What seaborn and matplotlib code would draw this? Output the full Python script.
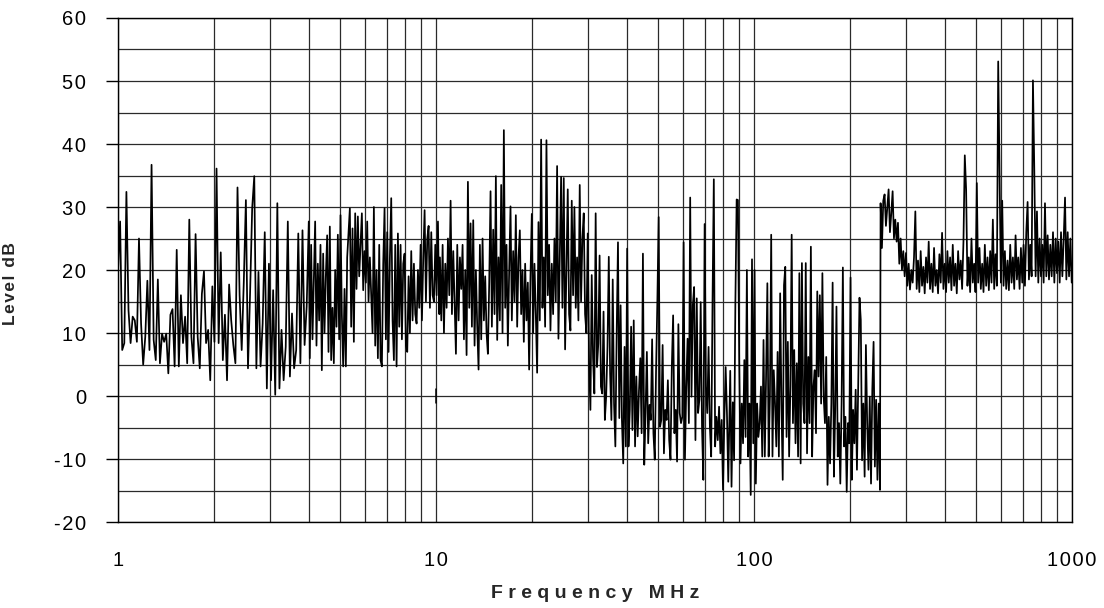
import numpy as np
import matplotlib
matplotlib.use("Agg")
from matplotlib import pyplot as plt
import seaborn as sns
import pandas as pd

# sweep segments (MHz): start / stop of each block of readings
seg_start_mhz = [1.0, 4.01, 10.29, 30.3, 84.2, 250.1]
seg_stop_mhz = [3.98, 10.24, 30.0, 83.0, 249.0, 998.0]

# level readings in dB
seg1_levels = [20, 27.7, 7.3, 8.4, 32.4, 13.6, 8.4, 12.6, 12, 8.6, 25, 11.5, 5, 9.4, 18.3, 7.3,
               36.7, 8.9, 5.7, 18.5, 5.2, 9.9, 8.6, 9.9, 3.6, 12.9, 13.8, 4.7, 23.2, 4.7, 16, 8.4,
               12.6, 5.2, 28, 9.4, 5.2, 25.7, 9.4, 4.4, 16.2, 19.8, 8.4, 10.5, 2.5, 17.4, 8.6, 36.1,
               8.4, 22.8, 5.7, 12.9, 2.5, 17.7, 12, 8.1, 5.2, 33.1, 16, 7.3, 18.1, 31.1, 4.4, 16.3,
               29.8, 34.9, 4.4, 19.7, 4.7, 11.5, 26, 1.2, 21, 2.5, 16.8, 0.2, 30.6, 1.2, 10.5, 2.5,
               7.8, 27.7, 3.1, 13.1, 4.4, 7.3, 25.8, 5.2, 26.3, 8.1, 14.2, 27.7]

seg2_levels = [6, 24, 9, 18, 27.7, 8, 21, 12, 24, 4.1, 22.6, 10, 19, 25.5, 7, 26.9, 5.7, 14, 5.2,
               20, 11, 25.6, 9, 28.7, 13, 4.7, 17, 4.7, 22, 25.8, 29.8, 11, 26.6, 8.6, 29, 17, 28.5,
               19, 24, 29, 16.8, 23, 18, 27.7, 15, 22, 16, 10, 30, 8, 20, 6, 24, 5.7, 4.7, 21, 29.8,
               9, 26, 7, 22, 31.4, 12, 5.7, 24, 4.7, 25.8, 11, 24, 9, 21, 22.6, 8, 7, 19, 10, 23, 12,
               21, 13, 11.5, 20, 14, 24, 12, 22, 29.5, 15, 25, 27, 14, 26, 16, 15, 24, 16, 27.7, 13]

seg3_levels = [22, 12, 24, 10, 21, 14, 25, 16, 31, 13, 23, 15, 6.7, 24, 12, 22, 17, 24, 9, 20, 6.5,
               34, 14, 27.4, 11, 27.9, 8, 20, 11, 4.2, 24, 9, 25, 12, 19, 10, 6.7, 18, 32.5, 11,
               26.4, 13, 34.9, 8.9, 22, 12, 33.5, 10, 42.2, 14, 24, 8, 20, 30.1, 12, 23, 15, 28.7,
               11, 22, 26.3, 13, 20, 8.6, 21, 12, 18, 4.2, 19, 28.9, 10, 21, 13, 3.7, 27.6, 12,
               40.7, 14, 22, 11, 40.6, 16, 24, 10.4, 21, 13, 25, 15, 36.5, 9.1, 22, 34.8, 14, 34.6,
               7.4, 20, 32.8, 13, 10.4, 31, 16, 30, 14, 22, 12, 33.5, 15, 25, 29, 13, 10, 25.8]

seg4_levels = [5.2, -2.2, 19.2, 6.0, 0.4, 29.0, 4.6, 8.3, 22.3, 1.5, 0.4, 13.4, -3.8, -0.1, 7.8,
               22.1, 3.6, -3.8, 18.5, -1.2, -8.0, 10.0, 24.4, -3.5, 14.4, -3.8, -10.7, 7.8, -8.0,
               23.4, -8.0, -2.2, 11.0, -5.4, 12.0, -8.0, 3.1, -6.4, 0.9, 6.0, -5.9, 22.6, -10.9,
               -2.7, 7.0, -7.5, -1.4, -3.8, 9.0, -5.9, -10.1, 4.1, 15.2, 28.4, -4.9, -3.8, 8.1,
               -9.1, -2.2, -3.8, 2.5, -7.0, -10.1, 4.6, 12.8, -5.9, -2.2, -10.4, 11.4, -2.7, -4.3,
               -3.3, 24.4, -10.1, 1.5, 9.1, -4.3, 31.5, -0.1, 14.4, 17.3, -7.0, 15.5, -2.7, -0.6,
               14.9, -4.9, -13.3, 27.3, 1.5, -2.7, 7.8, -4.9, -9.6, 14.9, 34.4, -8.0, -3.3, -7.0,
               -1.7, -9.1, -3.8, -14.9, -3.8, 4.6, -2.7, -13.6]

seg5_levels = [4.0, -14.4, -1.0, -10.2, 14.7, 31.2, 31.1, 5.7, -10.7, -1.2, -7.5, 5.7, -6.5, 20.0,
               -9.6, -1.2, -15.7, 21.7, -7.5, 20.0, -13.9, -1.2, -6.5, -4.3, 1.5, -9.6, 8.9, -9.6,
               3.1, 17.9, -9.6, -0.1, 25.6, -9.6, 4.1, -1.2, -8.0, 7.0, -9.6, 16.3, -1.2, -13.3,
               17.6, 20.5, -6.5, 8.6, -9.6, 1.5, 25.6, -4.3, 7.3, -7.5, 5.2, -9.6, 19.5, -10.7,
               21.1, -1.2, -4.3, 21.1, -9.1, 6.2, -4.3, 23.7, -9.6, 1.5, 4.1, -5.9, 16.6, 3.1,
               16.0, -1.2, 19.5, -0.1, -4.3, 6.2, -14.1, -3.3, -10.7, -1.2, 18.0, -12.8, -2.2,
               14.2, -9.6, -4.3, -13.9, -1.2, 20.4, -8.0, -3.3, -15.2, -4.3, -7.5, 18.8, -13.3,
               -2.2, -7.5, 1.0, -11.7, 2.5, 15.6, 12.1, -10.2, -1.2, -12.8, 8.1, -4.3, -11.7, -0.1,
               -13.9, 1.0, 8.6, -11.2, -0.6, -13.3, -1.2, -14.9]

seg6_levels = [30.6, 23.5, 31, 32, 27, 30, 32.8, 26, 29, 32.5, 25, 28, 24.5, 27.5, 21, 25, 20, 23,
               19, 22.7, 17.5, 21, 16.9, 20, 18, 22, 29.3, 17, 21.5, 16.5, 23, 17.5, 20.5, 16.3, 22,
               18, 24.5, 17, 21, 16.5, 23.5, 17.5, 20, 16.3, 22.5, 18, 25.9, 17, 21, 16.5, 23, 18,
               22, 16.8, 24, 17.5, 21, 16.3, 23, 18.5, 21.5, 17, 24.5, 38.2, 32.8, 17.5, 22, 16.5,
               25, 18, 21, 16.5, 33.8, 18, 23.5, 17, 21, 16.5, 24, 17.5, 22, 16.8, 23, 18, 28, 17,
               22.5, 17.5, 53.1, 36.2, 18, 31, 17.5, 23, 17, 21.5, 16.8, 24, 18, 22, 17, 25.5, 18.5,
               22, 17, 23.5, 18, 24, 17.5, 26, 30.8, 18.5, 24, 19, 50.1, 36, 19, 29.3, 18, 25, 19,
               24, 18, 30.6, 19, 25.5, 18.5, 24, 19, 26, 18, 25, 19.5, 24.5, 18, 26, 19, 25, 31.5,
               18.5, 26, 19, 25, 18]

# short isolated mark near 10 MHz
mark_freq = [9.98, 9.98]
mark_level = [1.1, -1.1]

segments = [seg1_levels, seg2_levels, seg3_levels, seg4_levels, seg5_levels, seg6_levels]
freq, level = [], []
for f0, f1, lv in zip(seg_start_mhz, seg_stop_mhz, segments):
    freq.append(np.geomspace(f0, f1, len(lv)))
    level.append(np.asarray(lv, dtype=float))
df = pd.DataFrame({"freq": np.concatenate(freq), "level": np.concatenate(level)})

sns.set_theme(style="white")
plt.rcParams["font.family"] = ["Liberation Sans", "DejaVu Sans"]

fig = plt.figure(figsize=(11.04, 6.08), dpi=100)
ax = fig.add_axes([0.1069, 0.1414, 0.8641, 0.829])

ax.set_xscale("log")
ax.set_xlim(1, 1000)
ax.set_ylim(-20, 60)

grid_kw = dict(color="#2a2a2a", linewidth=0.9)
ax.set_xticks([1, 10, 100, 1000])
ax.set_xticks([m * d for d in (1, 10, 100) for m in range(2, 10)], minor=True)
ax.set_yticks(range(-20, 61, 10))
ax.set_yticks(range(-15, 60, 10), minor=True)
ax.grid(True, which="both", axis="both", **grid_kw)
ax.set_axisbelow(True)

sns.lineplot(data=df, x="freq", y="level", sort=False, estimator=None,
             color="black", linewidth=1.25, ax=ax)
ax.plot(mark_freq, mark_level, color="black", linewidth=1.1)

hs = "\u200a"
ax.set_xticklabels([hs.join(str(v)) for v in (1, 10, 100, 1000)], fontsize=14.5)
ax.set_yticklabels([hs.join(str(v)) for v in range(-20, 61, 10)], fontsize=14.5)
ax.tick_params(axis="x", which="both", length=0, pad=21, colors="black")
ax.tick_params(axis="y", which="major", length=9, width=1, direction="out",
               pad=14, colors="black", left=True)
ax.tick_params(axis="y", which="minor", length=0)

for s in ax.spines.values():
    s.set_color("black")
    s.set_linewidth(1)

ax.set_xlabel("F r e q u e n c y   M H z", fontsize=14, fontweight="bold")
ax.xaxis.set_label_coords(0.5, -0.125)
ax.set_ylabel(hs.join("Level dB"), fontsize=12.5, fontweight="bold")
ax.yaxis.set_label_coords(-0.105, 0.474)

fig.savefig("out.png", dpi=100, facecolor="white")
